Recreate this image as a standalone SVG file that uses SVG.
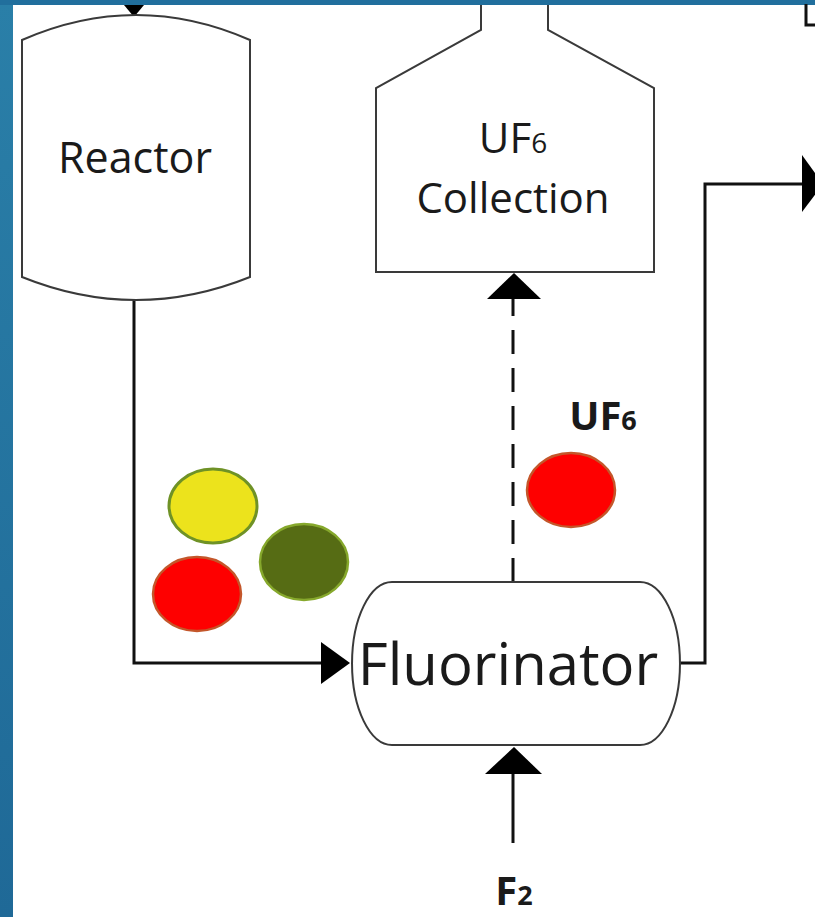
<svg xmlns="http://www.w3.org/2000/svg" width="815" height="917" viewBox="0 0 815 917">
<defs>
<linearGradient id="blueL" x1="0" y1="0" x2="0" y2="1"><stop offset="0" stop-color="#2a7fa8"/><stop offset="1" stop-color="#1f6997"/></linearGradient>
<style>
.shape{fill:#fff;stroke:#3a3a3a;stroke-width:2}
.line{fill:none;stroke:#111;stroke-width:3}
.dash{fill:none;stroke:#111;stroke-width:3;stroke-dasharray:24 14}
.head{fill:#000}
.lbl{font-family:"Open Sans","Noto Sans",sans-serif;fill:#1a1a1a;text-anchor:middle}
.bold{font-family:"Open Sans","Noto Sans",sans-serif;font-weight:bold;fill:#1a1a1a;text-anchor:middle}
.red{fill:#fe0000;stroke:#c4562a;stroke-width:2.5}
</style>
</defs>
<rect x="0" y="0" width="815" height="917" fill="#fff"/>
<rect x="0" y="0" width="13" height="917" fill="url(#blueL)"/>
<rect x="0" y="0" width="815" height="5" fill="#216f9d"/>

<g id="connectors">
<path class="line" d="M134,5 L134,12"/>
<polygon class="head" points="124,5 144,5 134,17"/>
<path class="line" d="M134,300 L134,663 L330,663"/>
<polygon class="head" points="321,642 321,684 350,663"/>
<path class="dash" d="M513,582 L513,298"/>
<polygon class="head" points="487,299 541,299 514,273"/>
<path class="line" d="M680,663 L705,663 L705,184 L805,184"/>
<polygon class="head" points="802,155 802,212 823,184"/>
<path class="line" d="M513,843 L513,770"/>
<polygon class="head" points="485,774 542,774 514,747"/>
<path class="line" d="M806,4 L806,25 L815,25"/>
</g>

<g id="reactor">
<path class="shape" d="M22,40 Q136,-10 250,40 L250,277 Q136,323 22,277 Z"/>
<text class="lbl" x="135" y="173" font-size="43">Reactor</text>
</g>

<g id="uf6-collection">
<path class="shape" d="M481,5 L481,30 L376,88 L376,272 L654,272 L654,88 L548,30 L548,5"/>
<text class="lbl" x="513" y="153" font-size="42">UF<tspan font-size="28">6</tspan></text>
<text class="lbl" x="513" y="213" font-size="42">Collection</text>
</g>

<g id="fluorinator">
<path class="shape" d="M392,582 L640,582 A40,81.5 0 0 1 640,745 L392,745 A40,81.5 0 0 1 392,582 Z"/>
<text class="lbl" x="508" y="685" font-size="58">Fluorinator</text>
</g>

<g id="particles">
<ellipse cx="213" cy="506" rx="44" ry="37" fill="#ece31c" stroke="#6f9226" stroke-width="3"/>
<ellipse cx="304" cy="562" rx="44" ry="38" fill="#566c14" stroke="#86a82c" stroke-width="2.5"/>
<ellipse class="red" cx="197" cy="594" rx="44" ry="37"/>
<ellipse class="red" cx="571" cy="490" rx="44" ry="37"/>
</g>

<g id="labels">
<text class="bold" x="603" y="430" font-size="40">UF<tspan font-size="27">6</tspan></text>
<text class="bold" x="514" y="905" font-size="40">F<tspan font-size="27">2</tspan></text>
</g>
</svg>
